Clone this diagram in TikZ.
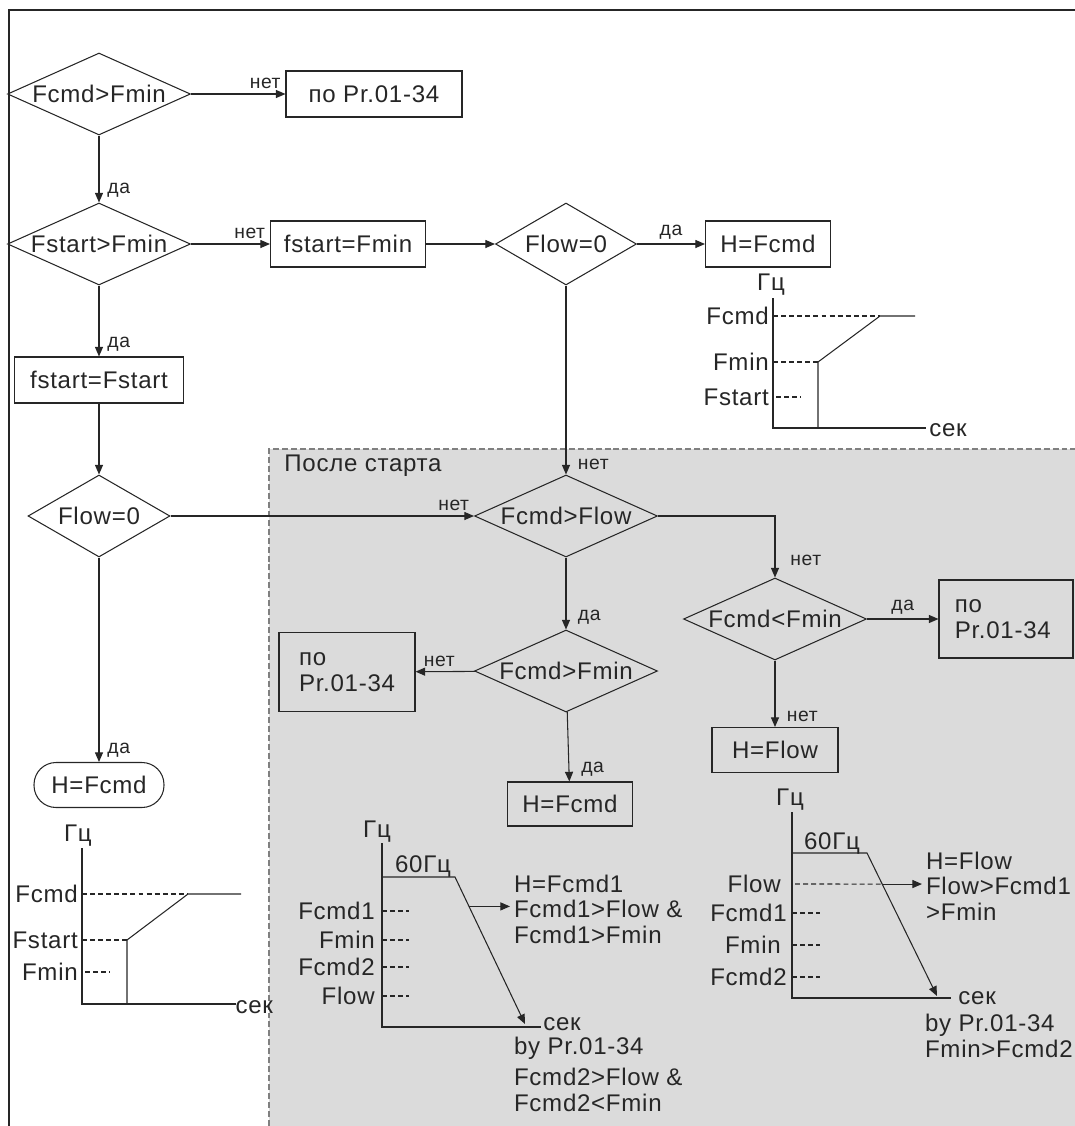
\documentclass[tikz,border=0pt]{standalone}
\usepackage{fontspec}
\setmainfont{Liberation Sans}[LetterSpace=3]
\usetikzlibrary{arrows.meta}
\usetikzlibrary{shapes.geometric}

\begin{document}
\begin{tikzpicture}[x=0.02cm,y=-0.02cm,
    font=\fontsize{13.7}{14.5}\selectfont,
    color=black!85, line width=0.6pt,
    >={Triangle[length=5.5pt,width=4.6pt]},
    dec/.style={diamond, draw, inner sep=0pt, minimum width=3.66cm, minimum height=1.64cm},
    blk/.style={rectangle, draw, inner sep=0pt, minimum height=0.92cm},
    lab/.style={font=\fontsize{11}{12}\selectfont, inner sep=2.5pt},
    lvl/.style={dash pattern=on 2.8pt off 1.8pt}]
    \useasboundingbox (0,0) rectangle (1075,1126);
    % area after start
    \fill[gray!28] (269,449) rectangle (1075,1126);
    \draw[gray, dash pattern=on 3.4pt off 1.7pt] (269,1126) |- (1075,449);
    \node[anchor=west] (after) at (278,466) {После старта};
    % frame
    \draw (1075,10) -- (9,10) -- (9,1126);

    % start check
    \node[dec] (cmdmin) at (99,94) {\makebox[0pt]{Fcmd>Fmin}};
    \node[blk, minimum width=3.52cm] (pr1) at (374,94) {по Pr.01-34};
    \node[dec] (startmin) at (99,244) {\makebox[0pt]{Fstart>Fmin}};
    \node[blk, minimum width=3.1cm] (fsmin) at (348,244) {fstart=Fmin};
    \node[dec, minimum width=2.82cm] (lowa) at (566,244) {\makebox[0pt]{Flow=0}};
    \node[blk, minimum width=2.5cm] (hcmda) at (768,244) {H=Fcmd};
    \node[blk, minimum width=3.37cm] (fsstart) at (99,380) {fstart=Fstart};
    \node[dec, minimum width=2.84cm] (lowb) at (99,516) {\makebox[0pt]{Flow=0}};
    \node[blk, rounded corners=0.44cm, minimum width=2.6cm, minimum height=0.9cm] (hcmdb) at (99,785) {H=Fcmd};

    % after start
    \node[dec] (cmdlow) at (566,516) {\makebox[0pt]{Fcmd>Flow}};
    \node[dec] (cmdmin2) at (566,671) {\makebox[0pt]{Fcmd>Fmin}};
    \node[blk, minimum width=2.72cm, minimum height=1.58cm, text width=1.92cm, align=left] (pr2) at (347,672) {по\\Pr.01-34};
    \node[blk, minimum width=2.5cm, minimum height=0.88cm] (hcmdc) at (570,804) {H=Fcmd};
    \node[dec] (cmdmin3) at (775,619) {\makebox[0pt]{Fcmd<Fmin}};
    \node[blk, minimum width=2.68cm, minimum height=1.56cm, text width=2.05cm, align=left] (pr3) at (1006,619) {по\\Pr.01-34};
    \node[blk, minimum width=2.52cm, minimum height=0.9cm] (hlow) at (775,750) {H=Flow};

    % connectors
    \draw[->] (cmdmin) -- node[lab, pos=1, above left] {нет} (pr1);
    \draw[->] (cmdmin) -- node[lab, pos=1, above right, xshift=2pt] {да} (startmin);
    \draw[->] (startmin) -- node[lab, pos=1, above left] {нет} (fsmin);
    \draw[->] (fsmin) -- (lowa);
    \draw[->] (lowa) -- node[lab, above] {да} (hcmda);
    \draw[->] (startmin) -- node[lab, pos=1, above right, xshift=2pt] {да} (fsstart);
    \draw[->] (fsstart) -- (lowb);
    \draw[->] (lowb) -- node[lab, pos=1, above right, xshift=2pt] {да} (hcmdb);
    \draw[->] (lowb) -- node[lab, pos=1, above left] {нет} (cmdlow);
    \draw[->] (lowa) -- node[lab, pos=1, above right, xshift=4pt] {нет} (cmdlow);
    \draw[->] (cmdlow) -- node[lab, pos=1, above right, xshift=4pt] {да} (cmdmin2);
    \draw[->] (cmdmin2) -- node[lab, pos=1, above right, xshift=2pt] {нет} (pr2);
    \draw[->] (cmdmin2) -- node[lab, pos=1, above right, xshift=4pt] {да} (hcmdc);
    \draw[->] (cmdlow.east) -| node[lab, pos=1, above right, xshift=6pt, yshift=4pt] {нет} (cmdmin3.north);
    \draw[->] (cmdmin3) -- node[lab, above] {да} (pr3);
    \draw[->] (cmdmin3) -- node[lab, pos=1, above right, xshift=4pt] {нет} (hlow);

    % graph: Flow=0 at start
    \draw (773,298) |- (926,428);
    \node (hza) at (771,285) {Гц};
    \node[anchor=west, inner sep=1pt] (seca) at (927,430) {сек};
    \foreach \y/\t in {316/Fcmd,362/Fmin,397/Fstart}
        \node[anchor=east, inner sep=1pt] (ga\y) at (771,\y) {\t};
    \draw[lvl] (773,316) -- (880,316) (773,362) -- (818,362) (776,397) -- (801,397);
    \draw (818,428) -- (818,362) -- (880,316) -- (915,316);

    % graph: Flow=0 below
    \draw (82,848) |- (236,1004);
    \node (hzb) at (78,836) {Гц};
    \node[anchor=west, inner sep=0pt] (secb) at (235,1007) {сек};
    \foreach \y/\t in {894/Fcmd,940/Fstart,972/Fmin}
        \node[anchor=east, inner sep=1pt] (gb\y) at (80,\y) {\t};
    \draw[lvl] (82,894) -- (188,894) (82,940) -- (127,940) (85,972) -- (110,972);
    \draw (127,1004) -- (127,940) -- (188,894) -- (241,894);

    % graph: Fcmd>Flow
    \draw (382,843) |- (541,1027);
    \node (hzc) at (377,832) {Гц};
    \node[anchor=west, inner sep=1pt] (secc) at (541,1024) {сек};
    \node (topc) at (423,866) {60Гц};
    \foreach \y/\t in {911/Fcmd1,940/Fmin,967/Fcmd2,996/Flow} {
        \node[anchor=east, inner sep=1pt] (gc\y) at (377,\y) {\t};
        \draw[lvl] (382,\y) -- (409,\y);
    }
    \draw[->] (382,877) -- (455,877) -- coordinate[pos=0.2] (cc) (525,1024);
    \node[anchor=west, align=left, inner sep=2pt] (notec) at (510,909) {H=Fcmd1\\Fcmd1>Flow \&\\Fcmd1>Fmin};
    \draw[->] (cc) -- (cc -| notec.west);
    \node[anchor=west, inner sep=2pt] (byc) at (510,1048) {by Pr.01-34};
    \node[anchor=west, align=left, inner sep=2pt] (condc) at (510,1090) {Fcmd2>Flow \&\\Fcmd2<Fmin};

    % graph: H=Flow
    \draw (792,812) |- (951,998);
    \node (hzd) at (790,800) {Гц};
    \node[anchor=west] (secd) at (952,998) {сек};
    \node (topd) at (832,843) {60Гц};
    \node[anchor=east, inner sep=1pt] (gd884) at (783,884) {Flow};
    \foreach \y/\t/\r in {913/Fcmd1/789,945/Fmin/783,977/Fcmd2/789} {
        \node[anchor=east, inner sep=1pt] (gd\y) at (\r,\y) {\t};
        \draw[lvl] (792,\y) -- (820,\y);
    }
    \draw[->] (792,853) -- (867,853) -- coordinate[pos=0.217] (cd) (937,996);
    \draw[lvl] (795,884) -- (cd);
    \node[anchor=west, align=left, inner sep=2pt] (noted) at (922,886) {H=Flow\\Flow>Fcmd1\\>Fmin};
    \draw[->] (cd) -- (cd -| noted.west);
    \node[anchor=west, align=left, inner sep=2pt] (byd) at (921,1036) {by Pr.01-34\\Fmin>Fcmd2};
\end{tikzpicture}
\end{document}
